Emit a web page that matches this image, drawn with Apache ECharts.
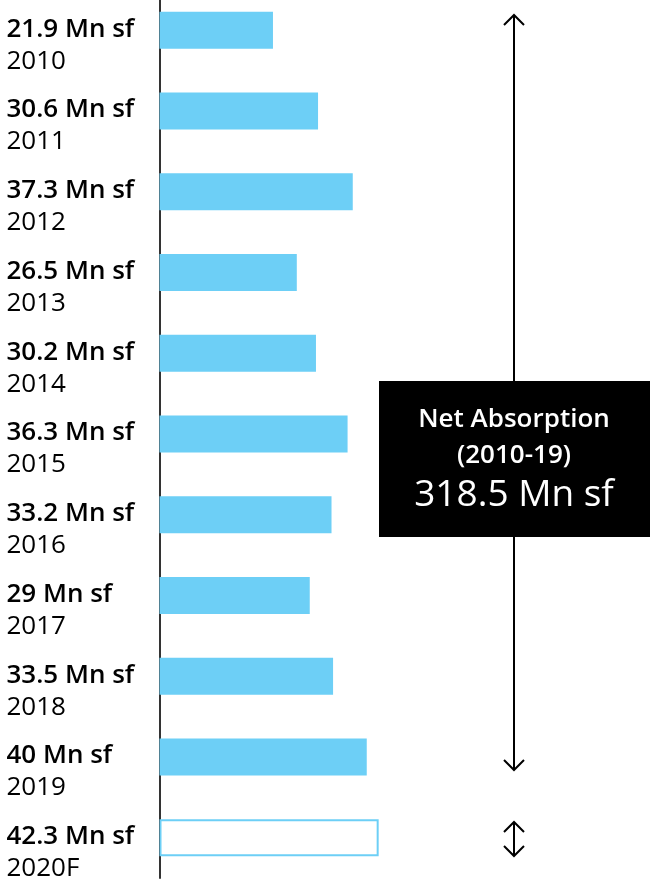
<!DOCTYPE html>
<html>
<head>
<meta charset="utf-8">
<script src="https://cdn.jsdelivr.net/npm/echarts@6/dist/echarts.min.js"></script>
<style>html,body{margin:0;padding:0;background:#fff;}#c{width:652px;height:880px;}</style>
</head>
<body>
<div id="c"></div>
<script>
const years = ['2010','2011','2012','2013','2014','2015','2016','2017','2018','2019','2020F'];
const values = [21.9, 30.6, 37.3, 26.5, 30.2, 36.3, 33.2, 29, 33.5, 40, 42.3];
const valueLabels = ['21.9 Mn sf','30.6 Mn sf','37.3 Mn sf','26.5 Mn sf','30.2 Mn sf','36.3 Mn sf','33.2 Mn sf','29 Mn sf','33.5 Mn sf','40 Mn sf','42.3 Mn sf'];
const boxLines = ['Net Absorption', '(2010-19)', '318.5 Mn sf'];

const FONT = '"Open Sans"';
const BLUE = '#6DCFF6';

const chart = echarts.init(document.getElementById('c'));

const seriesData = values.map((v, i) => {
  if (years[i] === '2020F') {
    return { value: v, itemStyle: { color: '#fff', borderColor: BLUE, borderWidth: 2 } };
  }
  return v;
});

function arrowHead(x, y, dir) {
  return {
    type: 'polyline',
    shape: { points: [[x - 10, y - dir * 10], [x, y], [x + 10, y - dir * 10]] },
    style: { stroke: '#000', lineWidth: 2, fill: null }
  };
}

const AX = 514;
chart.setOption({
  animation: false,
  grid: { left: 159.5, right: 78, top: -10, height: 888, outerBoundsMode: 'none', containLabel: false },
  xAxis: { type: 'value', min: 0, max: 80, show: false },
  yAxis: {
    type: 'category', data: years, inverse: true,
    axisLine: { show: true, lineStyle: { color: '#333', width: 2 } },
    axisTick: { show: false },
    splitLine: { show: false },
    axisLabel: {
      align: 'left', margin: 153, padding: [30, 0, 0, 0],
      formatter: (val, idx) => '{v|' + valueLabels[idx] + '}\n{y|' + val + '}',
      rich: {
        v: { fontFamily: FONT, fontWeight: 600, fontSize: 26, color: '#000', lineHeight: 32 },
        y: { fontFamily: FONT, fontWeight: 'normal', fontSize: 26, color: '#000', lineHeight: 32 }
      }
    }
  },
  series: [{
    type: 'bar', data: seriesData, barWidth: 37,
    itemStyle: { color: BLUE },
    silent: true
  }],
  graphic: [
    { type: 'line', shape: { x1: AX, y1: 15, x2: AX, y2: 381 }, style: { stroke: '#000', lineWidth: 2 } },
    { type: 'line', shape: { x1: AX, y1: 537, x2: AX, y2: 770 }, style: { stroke: '#000', lineWidth: 2 } },
    arrowHead(AX, 15, -1),
    arrowHead(AX, 770, 1),
    { type: 'line', shape: { x1: AX, y1: 822, x2: AX, y2: 856 }, style: { stroke: '#000', lineWidth: 2 } },
    arrowHead(AX, 822, -1),
    arrowHead(AX, 856, 1),
    { type: 'rect', shape: { x: 379, y: 381, width: 271, height: 156 }, style: { fill: '#000' } },
    { type: 'text', x: AX, y: 420, style: { text: boxLines[0], fill: '#fff', font: '600 26px ' + FONT, align: 'center', verticalAlign: 'middle' } },
    { type: 'text', x: AX, y: 456, style: { text: boxLines[1], fill: '#fff', font: '600 26px ' + FONT, align: 'center', verticalAlign: 'middle' } },
    { type: 'text', x: AX, y: 495, style: { text: boxLines[2], fill: '#fff', font: '37px ' + FONT, align: 'center', verticalAlign: 'middle' } }
  ]
});
</script>
</body>
</html>
